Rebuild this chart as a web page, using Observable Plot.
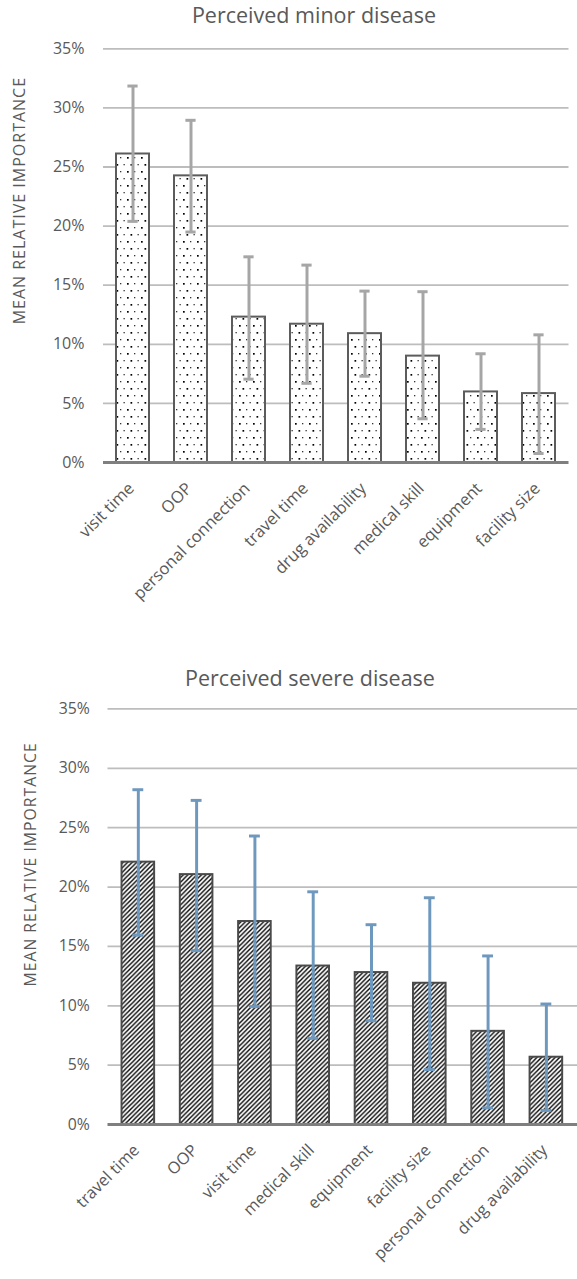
<!DOCTYPE html>
<html><head><meta charset="utf-8">
<script src="https://cdn.jsdelivr.net/npm/d3@7"></script>
<script src="https://cdn.jsdelivr.net/npm/@observablehq/plot@0.6"></script>
<style>
html,body{margin:0;padding:0;background:#fff;}
body{width:577px;height:1279px;position:relative;overflow:hidden;font-family:"Open Sans",sans-serif;}
.title{position:absolute;transform:translateX(-50%);white-space:nowrap;color:#595959;font-size:21.5px;line-height:1;}
.chart{position:absolute;left:0;}
</style></head><body>
<div class="title" style="left:314px;top:4px">Perceived minor disease</div>
<div class="chart" id="c1" style="top:30px"></div>
<div class="title" style="left:310px;top:667px">Perceived severe disease</div>
<div class="chart" id="c2" style="top:690px"></div>
<script>
// ---- data (mean relative importance, %) ----
const minorFactors = ["visit time","OOP","personal connection","travel time","drug availability","medical skill","equipment","facility size"];
const minorMeans = [26.1, 24.25, 12.3, 11.7, 10.9, 9.0, 5.97, 5.83];
const minorLow   = [20.4, 19.5, 7.05, 6.7, 7.3, 3.7, 2.8, 0.76];
const minorHigh  = [31.85, 28.95, 17.4, 16.7, 14.5, 14.45, 9.2, 10.8];

const severeFactors = ["travel time","OOP","visit time","medical skill","equipment","facility size","personal connection","drug availability"];
const severeMeans = [22.1, 21.05, 17.1, 13.35, 12.8, 11.9, 7.85, 5.67];
const severeLow   = [15.95, 14.65, 9.93, 7.26, 8.74, 4.63, 1.4, 1.19];
const severeHigh  = [28.2, 27.3, 24.3, 19.6, 16.83, 19.1, 14.2, 10.15];

const yTicks = [0, 5, 10, 15, 20, 25, 30, 35];
const yLabel = "MEAN RELATIVE IMPORTANCE";

function makeChart(o) {
  const data = o.factors.map((f, i) => ({factor: f, mean: o.means[i], low: o.low[i], high: o.high[i]}));
  const svg = Plot.plot({
    width: o.width, height: o.height,
    marginLeft: o.ml, marginRight: o.mr, marginTop: o.mt, marginBottom: o.mb,
    style: {fontFamily: '"Open Sans", sans-serif', fontSize: "16px", color: "#595959", background: "transparent", overflow: "visible"},
    x: {domain: o.factors, paddingInner: o.pad, paddingOuter: o.pad / 2, axis: null},
    y: {domain: [0, 35], nice: false},
    marks: [
      Plot.gridY(yTicks.filter(d => d > 0), {stroke: "#bdbdbd", strokeOpacity: 1, strokeWidth: 1.8}),
      Plot.barY(data, {x: "factor", y: "mean", fill: `url(#${o.pid})`, stroke: o.barStroke, strokeWidth: 2}),
      Plot.ruleX(data, {x: "factor", y1: "low", y2: "high", stroke: o.err, strokeWidth: 3}),
      Plot.tickY(data, {x: "factor", y: "high", stroke: o.err, strokeWidth: 3, insetLeft: o.capInset, insetRight: o.capInset}),
      Plot.tickY(data, {x: "factor", y: "low", stroke: o.err, strokeWidth: 3, insetLeft: o.capInset, insetRight: o.capInset}),
      Plot.ruleY([0], {stroke: "#7f7f7f", strokeWidth: 3}),
      Plot.axisY({ticks: yTicks, tickFormat: d => d + "%", tickSize: 0, tickPadding: o.tp, fontSize: 16, label: null}),
      Plot.text(data, {x: "factor", text: "factor", frameAnchor: "bottom", rotate: -45, textAnchor: "end", lineAnchor: "bottom", dx: 2, dy: 27, fontSize: 16.5, fill: "#595959"}),
      Plot.text([yLabel], {frameAnchor: "left", rotate: -90, textAnchor: "middle", lineAnchor: "middle", dx: o.ylx, dy: o.yly, fontSize: 16, fill: "#595959"})
    ]
  });
  d3.select(svg).insert("defs", ":first-child").html(o.defs);
  svg.querySelectorAll("text").forEach(t => { if (t.textContent === yLabel) t.setAttribute("letter-spacing", "1px"); });
  return svg;
}

const dotsDefs = `<pattern id="dots1" patternUnits="userSpaceOnUse" width="14" height="14">
<rect width="14" height="14" fill="#fff"/>
<rect x="1" y="1" width="1.7" height="1.7" fill="#000"/>
<rect x="8" y="1" width="1.3" height="1.3" fill="#333"/>
<rect x="4.5" y="8" width="1.7" height="1.7" fill="#000"/>
<rect x="11.5" y="8" width="1.3" height="1.3" fill="#333"/>
</pattern>`;
const hatchDefs = `<pattern id="hatch2" patternUnits="userSpaceOnUse" width="4.6" height="4.6">
<rect width="4.6" height="4.6" fill="#fff"/>
<path d="M-1,1 L1,-1 M0,4.6 L4.6,0 M3.6,5.6 L5.6,3.6" stroke="#000" stroke-width="1.4"/>
</pattern>`;

document.getElementById("c1").appendChild(makeChart({
  factors: minorFactors, means: minorMeans, low: minorLow, high: minorHigh,
  width: 577, height: 600, ml: 103, mr: 8.5, mt: 18.3, mb: 168,
  pad: 0.426, capInset: 11.4, tp: 19, err: "#a6a6a6", barStroke: "#5c5c5c",
  pid: "dots1", defs: dotsDefs, ylx: -83.7, yly: -55
}));
document.getElementById("c2").appendChild(makeChart({
  factors: severeFactors, means: severeMeans, low: severeLow, high: severeHigh,
  width: 584, height: 589, ml: 108.8, mr: 0, mt: 18.7, mb: 149.7,
  pad: 0.444, capInset: 11, tp: 18.4, err: "#6e98bd", barStroke: "#4a4a4a",
  pid: "hatch2", defs: hatchDefs, ylx: -78.4, yly: -53
}));
</script>
</body></html>
